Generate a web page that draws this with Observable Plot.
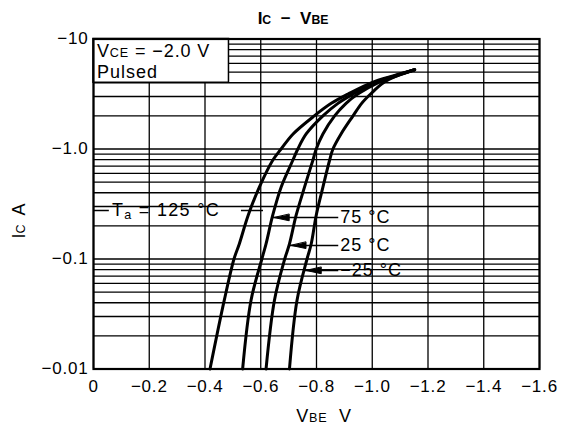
<!DOCTYPE html>
<html><head><meta charset="utf-8">
<script src="https://cdn.jsdelivr.net/npm/d3@7"></script>
<script src="https://cdn.jsdelivr.net/npm/@observablehq/plot@0.6"></script>
<style>
html,body{margin:0;padding:0;background:#fff;}
#chart svg{font-family:"Liberation Sans",Arial,sans-serif;background:#fff;}
</style></head><body><div id="chart"></div>
<script>
// |Ic| levels (A) at which each curve was read
const icLevels = [0.01, 0.042, 0.1, 0.137, 0.25, 0.45, 0.79, 1.0, 1.37, 2.0, 2.6, 3.16, 4.0, 4.66, 5.25];
// |VBE| (V) for each ambient temperature curve
const vbe125 = [0.418, 0.469, 0.504, 0.523, 0.555, 0.595, 0.643, 0.673, 0.716, 0.792, 0.853, 0.913, 0.996, 1.080, 1.152];
const vbe75  = [0.535, 0.565, 0.604, 0.619, 0.643, 0.673, 0.715, 0.733, 0.763, 0.823, 0.877, 0.931, 1.008, 1.086, 1.152];
const vbe25  = [0.619, 0.649, 0.686, 0.703, 0.727, 0.757, 0.787, 0.799, 0.823, 0.865, 0.906, 0.948, 1.020, 1.092, 1.152];
const vbeM25 = [0.703, 0.730, 0.766, 0.781, 0.799, 0.823, 0.847, 0.859, 0.888, 0.931, 0.962, 0.994, 1.040, 1.092, 1.152];
const tempNames = ["125", "75", "25", "−25"];
// axis ticks
const xTicks = [0, -0.2, -0.4, -0.6, -0.8, -1.0, -1.2, -1.4, -1.6];
const xTickLabels = ["0", "−0.2", "−0.4", "−0.6", "−0.8", "−1.0", "−1.2", "−1.4", "−1.6"];
const yTicks = [-10, -5, -1, -0.5, -0.1, -0.05, -0.01];
const yTickLabels = ["−10", "−5.0", "−1.0", "−0.5", "−0.1", "−0.05", "−0.01"];
const yGridMultipliers = [1, 2, 3, 4, 5, 6, 7, 8, 9];
const yDecades = [0.01, 0.1, 1];
// currents (|Ic|, A) at which the temperature labels sit
const labelIc = [0.276, 0.238, 0.133, 0.0786];

const series = [vbe125, vbe75, vbe25, vbeM25];
const rows = [];
series.forEach((vs, k) => vs.forEach((v, i) => rows.push({temp: tempNames[k], vbe: -v, ic: -icLevels[i]})));

const yGrid = [];
yDecades.forEach(d => yGridMultipliers.forEach(m => yGrid.push(-(d * m))));
yGrid.push(-10);

// VBE of curve k at a given |Ic| (piecewise from the data)
const vAt = (k, ic) => d3.scaleLog().domain(icLevels).range(series[k])(ic);

const arrows = [1, 2, 3].map(k => ({
  temp: tempNames[k], ic: -labelIc[k], tip: -vAt(k, labelIc[k]), start: -0.878
}));

const fmtX = d => xTickLabels[xTicks.indexOf(d)];
const fmtY = d => yTickLabels[yTicks.indexOf(d)];

const headShape = {
  draw(context, l, r) {
    context.moveTo(0, -l);
    context.lineTo(-r, 0);
    context.lineTo(r, 0);
    context.closePath();
  }
};

const plot = Plot.plot({
  width: 566, height: 432,
  marginTop: 38.5, marginBottom: 63.5, marginLeft: 93, marginRight: 27,
  style: {fontSize: "17px", fontFamily: "Liberation Sans, Arial, sans-serif", color: "#000", background: "#fff"},
  x: {type: "linear", domain: [0, -1.6], ticks: xTicks, tickFormat: fmtX, tickSize: 0, tickPadding: 11, label: null},
  y: {type: "log", domain: [-0.01, -10], ticks: yTicks, tickFormat: fmtY, tickSize: 0, tickPadding: 5, label: null},
  marks: [
    Plot.ruleX(xTicks, {stroke: "#000", strokeWidth: 1.3}),
    Plot.ruleY(yGrid, {stroke: "#000", strokeWidth: 1.3}),
    // test-condition box
    Plot.rect([{x1: 0, x2: -0.486, y1: -4, y2: -10}], {x1: "x1", x2: "x2", y1: "y1", y2: "y2", fill: "#fff", stroke: "#000", strokeWidth: 1.5}),
    Plot.frame({stroke: "#000", strokeWidth: 2.2}),
    Plot.line(rows, {x: "vbe", y: "ic", z: "temp", stroke: "#000", strokeWidth: 3, curve: "catmull-rom"}),
    // leader lines for 75, 25, -25 labels
    Plot.link(arrows, {x1: "start", x2: "tip", y1: "ic", y2: "ic", stroke: "#000", strokeWidth: 1.5}),
    Plot.vector(arrows, {x: "tip", y: "ic", length: 15, r: 3.2, rotate: 270, anchor: "end", shape: headShape, dx: 2, fill: "#000", stroke: "#000", strokeWidth: 1}),
    Plot.text(arrows, {x: "start", y: "ic", text: d => d.temp + " °C", textAnchor: "start", dx: 2, fontSize: 18, fill: "#000"}),
    // 125 °C leader lines
    Plot.link([{a: 0, b: -0.055, ic: -labelIc[0]}, {a: -0.529, b: -0.608, ic: -labelIc[0]}], {x1: "a", x2: "b", y1: "ic", y2: "ic", stroke: "#000", strokeWidth: 1.5})
  ]
});

const svg = d3.select(plot);
svg.selectAll("g[aria-label='x-axis tick label'] text, g[aria-label='y-axis tick label'] text").attr("letter-spacing", "0.8");
svg.selectAll("g[aria-label='text'] text").attr("letter-spacing", "1");
const X = plot.scale("x"), Y = plot.scale("y");

function rich(x, y, parts, size, anchor, extra) {
  const t = svg.append("text").attr("x", x).attr("y", y).attr("font-size", size)
    .attr("text-anchor", anchor || "start").attr("fill", "#000");
  if (extra) extra(t);
  parts.forEach(p => {
    const s = t.append("tspan").text(p.t);
    if (p.s) s.attr("font-size", size * p.s);
    if (p.dy) s.attr("dy", p.dy);
  });
  return t;
}

// title
rich(293, 24, [{t: "I"}, {t: "C", s: 0.72}, {t: "  −  V"}, {t: "BE", s: 0.72}], 17, "middle",
  t => t.attr("font-family", "Liberation Sans Narrow, Liberation Sans, sans-serif").attr("font-weight", "bold"));
// x axis label
rich(324, 422, [{t: "V"}, {t: "BE", s: 0.7}, {t: "  V"}], 18, "middle", t => t.attr("letter-spacing", "0.8"));
// y axis label
rich(0, 0, [{t: "I"}, {t: "C", s: 0.7}, {t: "  A"}], 18, "middle",
  t => t.attr("transform", "translate(25,221) rotate(-90)"));
// box text
rich(X.apply(-0.014), Y.apply(-6.75), [{t: "V"}, {t: "CE", s: 0.7}, {t: " = −2.0 V"}], 18, "start", t => t.attr("letter-spacing", "0.9"));
rich(X.apply(-0.014), Y.apply(-4.4), [{t: "Pulsed"}], 18, "start", t => t.attr("letter-spacing", "1"));
// 125 °C label
rich(X.apply(-0.068), Y.apply(-labelIc[0]) + 6, [{t: "T"}, {t: "a", s: 0.7, dy: 3}, {t: " = 125 °C", dy: -3}], 18, "start",
  t => t.attr("letter-spacing", "1.3"));

document.getElementById("chart").appendChild(plot);
</script></body></html>
